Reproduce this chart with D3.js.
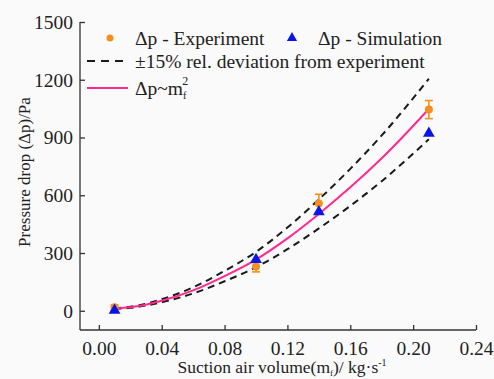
<!DOCTYPE html>
<html><head><meta charset="utf-8">
<script src="https://cdn.jsdelivr.net/npm/d3@7"></script>
<style>
body{margin:0;background:#fafafa;}
svg{display:block;}
</style></head>
<body>
<svg id="c" width="494" height="379"></svg>
<script>
// Data
const expM = [0.01, 0.10, 0.14, 0.21];
const expDp = [18, 230, 557, 1045];
const expErr = [12, 28, 48, 47];
const simM = [0.01, 0.10, 0.14, 0.21];
const simDp = [2, 266, 514, 922];
const fitM = [0.01, 0.02, 0.04, 0.06, 0.08, 0.10, 0.12, 0.14, 0.16, 0.18, 0.21];
const fitDp = [12, 18, 52, 106, 180, 266, 376, 503, 641, 792, 1048];
const relDev = 0.15;
const xTicks = [0.00, 0.04, 0.08, 0.12, 0.16, 0.20, 0.24];
const yTicks = [0, 300, 600, 900, 1200, 1500];

const FONT = "Liberation Serif";
const svg = d3.select("#c");
const x = d3.scaleLinear().domain([-0.012, 0.24]).range([80, 476]);
const y = d3.scaleLinear().domain([-100, 1500]).range([330, 22]);

const axisColor = "#333";
const xAxis = d3.axisBottom(x).tickValues(xTicks).tickSize(-5).tickFormat(d3.format(".2f")).tickPadding(11);
const yAxis = d3.axisLeft(y).tickValues(yTicks).tickSize(-5).tickFormat(d3.format("d")).tickPadding(7);
const gx = svg.append("g").attr("transform","translate(0,330)").call(xAxis);
const gy = svg.append("g").attr("transform","translate(80,0)").call(yAxis);
[gx, gy].forEach(g => {
  g.attr("font-family", FONT).attr("font-size", 19.5);
  g.select(".domain").attr("stroke", axisColor).attr("stroke-width", 1.3);
  g.selectAll(".tick line").attr("stroke", axisColor).attr("stroke-width", 1.3);
  g.selectAll(".tick text").attr("font-family", FONT).attr("font-size", 19.5).attr("fill","#222");
});
gx.select(".domain").attr("d", `M80,0H476`);
gy.select(".domain").attr("d", `M0,330V22`);

// curves
const fit = fitM.map((m,i)=>({m, v: fitDp[i]}));
const line = d3.line().x(d=>x(d.m)).y(d=>y(d.v)).curve(d3.curveMonotoneX);
const plot = svg.append("g");
plot.append("path").datum(fit.map(d=>({m:d.m, v:d.v*(1+relDev)})))
  .attr("d", line).attr("fill","none").attr("stroke","#1a1a1a").attr("stroke-width",2).attr("stroke-dasharray","7,5");
plot.append("path").datum(fit.map(d=>({m:d.m, v:d.v*(1-relDev)})))
  .attr("d", line).attr("fill","none").attr("stroke","#1a1a1a").attr("stroke-width",2).attr("stroke-dasharray","7,5");
plot.append("path").datum(fit).attr("d", line).attr("fill","none").attr("stroke","#ff2a8c").attr("stroke-width",2);

// experiment with error bars
const orange = "#f5901e";
const exp = expM.map((m,i)=>({m, v: expDp[i], e: expErr[i]}));
const eb = plot.selectAll(".eb").data(exp).enter().append("g");
eb.append("line").attr("x1",d=>x(d.m)).attr("x2",d=>x(d.m)).attr("y1",d=>y(d.v-d.e)).attr("y2",d=>y(d.v+d.e)).attr("stroke",orange).attr("stroke-width",1.6);
eb.append("line").attr("x1",d=>x(d.m)-4).attr("x2",d=>x(d.m)+4).attr("y1",d=>y(d.v-d.e)).attr("y2",d=>y(d.v-d.e)).attr("stroke",orange).attr("stroke-width",1.6);
eb.append("line").attr("x1",d=>x(d.m)-4).attr("x2",d=>x(d.m)+4).attr("y1",d=>y(d.v+d.e)).attr("y2",d=>y(d.v+d.e)).attr("stroke",orange).attr("stroke-width",1.6);
eb.append("circle").attr("cx",d=>x(d.m)).attr("cy",d=>y(d.v)).attr("r",4).attr("fill",orange);

// simulation triangles
const blue = "#0a14e6";
const tri = d3.symbol().type(d3.symbolTriangle).size(60);
plot.selectAll(".sim").data(simM.map((m,i)=>({m, v: simDp[i]}))).enter().append("path")
  .attr("d", tri).attr("transform", d=>`translate(${x(d.m)},${y(d.v)})`).attr("fill", blue);

// legend
const lg = svg.append("g").attr("font-size", 19.5).attr("font-family", FONT).attr("fill","#222");
lg.append("circle").attr("cx",110).attr("cy",38).attr("r",3.5).attr("fill",orange);
lg.append("text").attr("x",135).attr("y",45).text("Δp - Experiment");
lg.append("path").attr("d", d3.symbol().type(d3.symbolTriangle).size(45)).attr("transform","translate(292,38)").attr("fill",blue);
lg.append("text").attr("x",318).attr("y",45).text("Δp - Simulation");
lg.append("line").attr("x1",87).attr("x2",128).attr("y1",61).attr("y2",61).attr("stroke","#1a1a1a").attr("stroke-width",2).attr("stroke-dasharray","8,6");
lg.append("text").attr("x",135).attr("y",68).text("±15% rel. deviation from experiment");
lg.append("line").attr("x1",87).attr("x2",128).attr("y1",88).attr("y2",88).attr("stroke","#ff2a8c").attr("stroke-width",2);
const t3 = lg.append("text").attr("x",135).attr("y",95);
t3.append("tspan").text("Δp~m");
t3.append("tspan").attr("font-size",10).attr("dy",4).text("f");
t3.append("tspan").attr("font-size",12).attr("dx",-4).attr("dy",-14).text("2");

// axis titles
const xt = svg.append("text").attr("x",282).attr("y",373).attr("text-anchor","middle").attr("font-size",17.5).attr("font-family",FONT).attr("fill","#222");
xt.append("tspan").text("Suction air volume(m");
xt.append("tspan").attr("font-size",9).attr("dy",3).text("f");
xt.append("tspan").attr("dy",-3).text(")/ kg·s");
xt.append("tspan").attr("font-size",10).attr("dy",-7).text("-1");
svg.append("text").attr("transform","translate(30,172) rotate(-90)").attr("text-anchor","middle").attr("font-size",17)
  .attr("font-family",FONT).attr("fill","#222").text("Pressure drop (Δp)/Pa");
</script>
</body></html>
